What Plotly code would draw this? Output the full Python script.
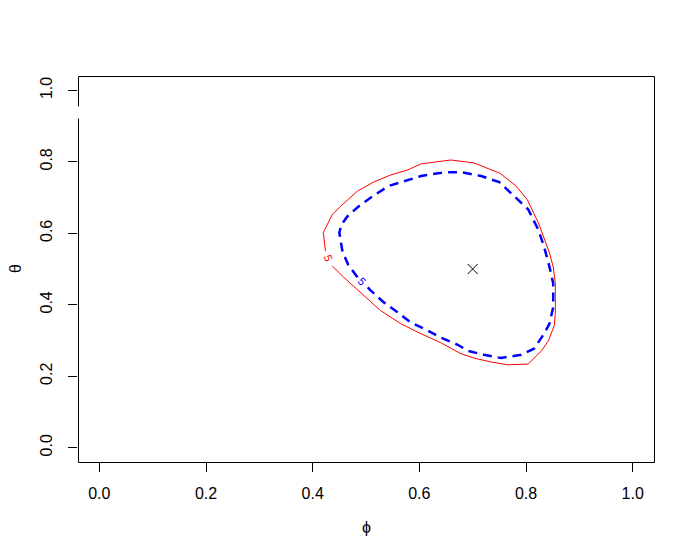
import plotly.graph_objects as go

red_phi = [0.424, 0.420, 0.437, 0.452, 0.484, 0.514, 0.546, 0.578, 0.603, 0.640, 0.659,
           0.702, 0.751, 0.780, 0.802, 0.823, 0.844, 0.851, 0.855, 0.855, 0.853, 0.842,
           0.829, 0.804, 0.766, 0.734, 0.702, 0.678, 0.640, 0.603, 0.565, 0.527, 0.484,
           0.458, 0.437]
red_theta = [0.550, 0.602, 0.653, 0.675, 0.718, 0.743, 0.763, 0.777, 0.794, 0.802, 0.805,
             0.797, 0.768, 0.734, 0.695, 0.630, 0.545, 0.506, 0.460, 0.376, 0.342, 0.299,
             0.271, 0.234, 0.232, 0.240, 0.251, 0.263, 0.294, 0.319, 0.347, 0.384, 0.441,
             0.477, 0.508]

# blue contour (dashed)
blue_phi = [0.484, 0.467, 0.456, 0.450, 0.454, 0.465, 0.486, 0.512, 0.542, 0.574, 0.603,
            0.635, 0.659, 0.678, 0.716, 0.750, 0.785, 0.804, 0.823, 0.834, 0.844, 0.851,
            0.851, 0.844, 0.834, 0.815, 0.791, 0.753, 0.721, 0.691, 0.672, 0.640, 0.612,
            0.584, 0.559, 0.533, 0.508, 0.499]
blue_theta = [0.477, 0.511, 0.548, 0.602, 0.624, 0.647, 0.675, 0.703, 0.732, 0.746, 0.760,
              0.768, 0.771, 0.771, 0.760, 0.743, 0.695, 0.667, 0.610, 0.562, 0.506, 0.460,
              0.393, 0.347, 0.319, 0.277, 0.260, 0.251, 0.260, 0.271, 0.288, 0.308, 0.331,
              0.350, 0.379, 0.407, 0.441, 0.455]

labels = ["5", "5"]
label_phi = [0.429, 0.492]
label_theta = [0.530, 0.466]

est_phi = [0.7]
est_theta = [0.5]

ticks = [0.0, 0.2, 0.4, 0.6, 0.8, 1.0]
tick_text = ["0.0", "0.2", "0.4", "0.6", "0.8", "1.0"]

font = "Liberation Sans, Arial, sans-serif"
lo, hi = -0.04, 1.04
W, H = 694, 559
L, R, T, B = 70, 48, 68, 105
pw, ph = W - L - R, H - T - B

fig = go.Figure()
fig.add_trace(go.Scatter(x=red_phi, y=red_theta, mode="lines",
                         line=dict(color="#ff0000", width=1), showlegend=False))
fig.add_trace(go.Scatter(x=blue_phi, y=blue_theta, mode="lines",
                         line=dict(color="#0000ff", width=2.5, dash="9px,6px"), showlegend=False))
fig.add_trace(go.Scatter(x=est_phi, y=est_theta, mode="markers",
                         marker=dict(symbol="x-thin", size=10, line=dict(color="black", width=1)),
                         showlegend=False))

for txt, px_, py_, col, ang in zip(labels, label_phi, label_theta, ["#ff0000", "#0000ff"], [70, 45]):
    fig.add_annotation(x=px_, y=py_, text=txt, showarrow=False, textangle=ang,
                       font=dict(family=font, size=11, color=col))

fig.add_annotation(xref="paper", yref="paper", x=0.5, y=0, yanchor="middle", yshift=-65,
                   text="ϕ", showarrow=False, font=dict(family=font, size=16, color="black"))
fig.add_annotation(xref="paper", yref="paper", x=0, y=0.5, xanchor="center", xshift=-63,
                   text="θ", textangle=-90, showarrow=False,
                   font=dict(family=font, size=16, color="black"))

# frame drawn by hand on half pixels (crisp), with the small break in the left side
fx0, fx1 = 0.5 / pw, 1 + 0.5 / pw
fy0, fy1 = -0.5 / ph, 1 - 0.5 / ph
gap0, gap1 = (0.921 - lo) / (hi - lo), (0.955 - lo) / (hi - lo)
frame = dict(color="black", width=1)
for x0, y0, x1, y1 in [(fx0, fy0, fx1, fy0), (fx0, fy1, fx1, fy1), (fx1, fy0, fx1, fy1),
                       (fx0, fy0, fx0, gap0), (fx0, gap1, fx0, fy1)]:
    fig.add_shape(type="line", xref="paper", yref="paper", x0=x0, y0=y0, x1=x1, y1=y1,
                  line=frame, layer="above")

axis_style = dict(range=[lo, hi], tickvals=ticks, ticktext=tick_text,
                  showgrid=False, zeroline=False, showline=False,
                  ticks="outside", ticklen=9, tickcolor="black",
                  tickfont=dict(family=font, size=16, color="black"))

fig.update_xaxes(**axis_style, ticklabelstandoff=8)
fig.update_yaxes(**axis_style, tickangle=-90, ticklabelstandoff=10)

fig.update_layout(width=W, height=H, plot_bgcolor="white", paper_bgcolor="white",
                  margin=dict(l=L, r=R, t=T, b=B))

fig.write_html("out.html")
